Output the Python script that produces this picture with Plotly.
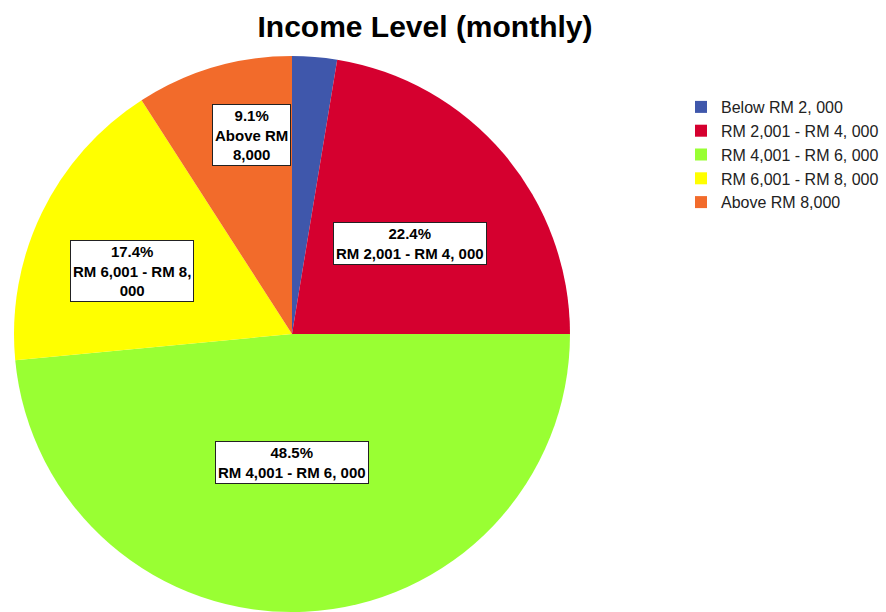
import math
import plotly.graph_objects as go

# Income distribution (monthly)
categories = ["Below RM 2, 000", "RM 2,001 - RM 4, 000", "RM 4,001 - RM 6, 000",
              "RM 6,001 - RM 8, 000", "Above RM 8,000"]
percent = [2.6, 22.4, 48.5, 17.4, 9.1]
slice_labels = ["", "RM 2,001 - RM 4, 000", "RM 4,001 - RM 6, 000",
                "RM 6,001 - RM 8,<br>000", "Above RM<br>8,000"]
colors = ["#3F57AB", "#D5002F", "#99FF33", "#FFFF00", "#F26B2B"]

W, H = 886, 612
cx, cy, R = 292, 334, 278          # pie centre and radius in pixels
# label placement: distance as fraction of radius, and angular nudge (degrees)
label_radius = [0.0, 0.536, 0.464, 0.62, 0.73]
label_nudge = [0.0, 2.7, 2.7, -4.5, 4.8]

fig = go.Figure(go.Pie(
    labels=categories, values=percent, sort=False, direction="clockwise",
    rotation=0, marker=dict(colors=colors, line=dict(width=0)),
    textinfo="none", hoverinfo="label+percent",
    domain=dict(x=[(cx - R) / W, (cx + R) / W], y=[0, (H - (cy - R)) / H]),
))

total = sum(percent)
cum = 0.0
for val, lab, frac, nudge in zip(percent, slice_labels, label_radius, label_nudge):
    mid = (cum + val / 2) / total * 2 * math.pi + math.radians(nudge)
    cum += val
    if not lab:
        continue
    px = cx + R * frac * math.sin(mid)
    py = cy - R * frac * math.cos(mid)
    fig.add_annotation(
        x=px / W, y=1 - py / H, xref="paper", yref="paper", showarrow=False,
        xanchor="center", yanchor="middle",
        text=f"<b>{val:.1f}%<br>{lab}</b>", align="center",
        font=dict(family="Liberation Sans, Arial", size=15, color="black"),
        bgcolor="white", bordercolor="#222222", borderwidth=1, borderpad=2,
    )

fig.update_layout(
    width=W, height=H, margin=dict(l=0, r=0, t=0, b=0),
    paper_bgcolor="white", plot_bgcolor="white",
    title=dict(text="<b>Income Level (monthly)</b>", x=425 / W, xanchor="center",
               y=1 - 26 / H, yanchor="middle",
               font=dict(family="Liberation Sans, Arial", size=30, color="black")),
    legend=dict(x=681 / W, y=1 - 90 / H, xanchor="left", yanchor="top",
                font=dict(family="Liberation Sans, Arial", size=16, color="#222222"),
                itemwidth=30, tracegroupgap=0, bgcolor="rgba(0,0,0,0)"),
)

fig.write_html("out.html")
